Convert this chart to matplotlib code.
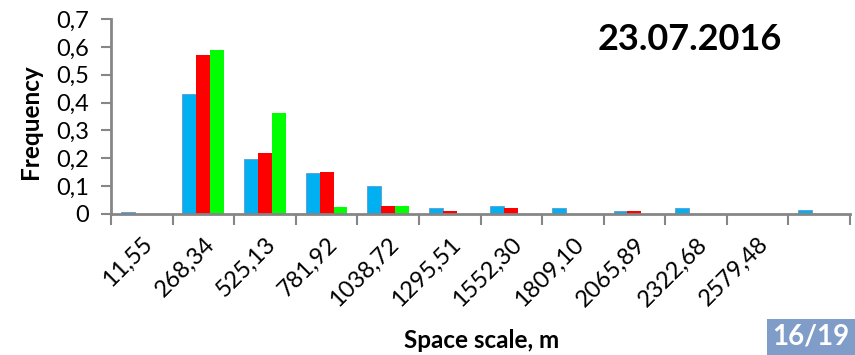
import matplotlib.pyplot as plt
import numpy as np

plt.rcParams['font.family'] = ['Lato', 'DejaVu Sans']

labels = ['11,55', '268,34', '525,13', '781,92', '1038,72', '1295,51',
          '1552,30', '1809,10', '2065,89', '2322,68', '2579,48', '']
blue = [0.008, 0.432, 0.197, 0.146, 0.101, 0.022, 0.030, 0.022, 0.009, 0.022, 0.0, 0.016]
red = [0.0, 0.570, 0.218, 0.151, 0.029, 0.010, 0.020, 0.0, 0.010, 0.0, 0.0, 0.0]
green = [0.0, 0.588, 0.364, 0.026, 0.027, 0.0, 0.0, 0.0, 0.0, 0.0, 0.0, 0.0]

fig = plt.figure(figsize=(8.55, 3.55), dpi=100)
ax = fig.add_axes([111/855, 141/355, 739/855, 195/355])

x = np.arange(len(labels))
w = 0.226
ax.bar(x - w, blue, w, color='#00B0F0', edgecolor='#5B9BD5', linewidth=0.6)
ax.bar(x, red, w, color='#FF0000')
ax.bar(x + w, green, w, color='#00FF00')

ax.set_xlim(-0.5, len(labels) - 0.5)
ax.set_ylim(0, 0.7)
ax.set_yticks(np.arange(0, 0.71, 0.1))
ax.set_yticklabels(['0'] + [('%.1f' % v).replace('.', ',') for v in np.arange(0.1, 0.71, 0.1)])

ax.set_xticks(x)
ax.set_xticklabels(labels, rotation=45, ha='right', va='top', rotation_mode='anchor')
ax.set_xticks(np.arange(-0.5, len(labels)), minor=True)
ax.tick_params(axis='x', which='major', length=0, pad=14, labelsize=17)
ax.tick_params(axis='x', which='minor', length=8, width=1.5, color='#868686', direction='out')
ax.tick_params(axis='y', length=7, width=1.5, color='#868686', labelsize=17, pad=9)

for s in ['top', 'right']:
    ax.spines[s].set_visible(False)
for s in ['left', 'bottom']:
    ax.spines[s].set_color('#868686')
    ax.spines[s].set_linewidth(2)

fig.text(30/855, 1 - 122/355, 'Frequency', rotation=90, ha='center', va='center',
         fontsize=17.5, fontweight='bold')
fig.text(482/855, 1 - 340/355, 'Space scale, m', ha='center', va='center',
         fontsize=17.5, fontweight='bold')
fig.text(690/855, 1 - 40/355, '23.07.2016', ha='center', va='center',
         fontsize=26, fontweight='bold')
fig.text(811/855, 1 - 337/355, '16/19', ha='center', va='center', fontsize=20,
         fontweight='bold', color='white',
         bbox=dict(boxstyle='square,pad=0.18', facecolor='#7F9DC8', edgecolor='none'))

fig.savefig('out.png', dpi=100)
